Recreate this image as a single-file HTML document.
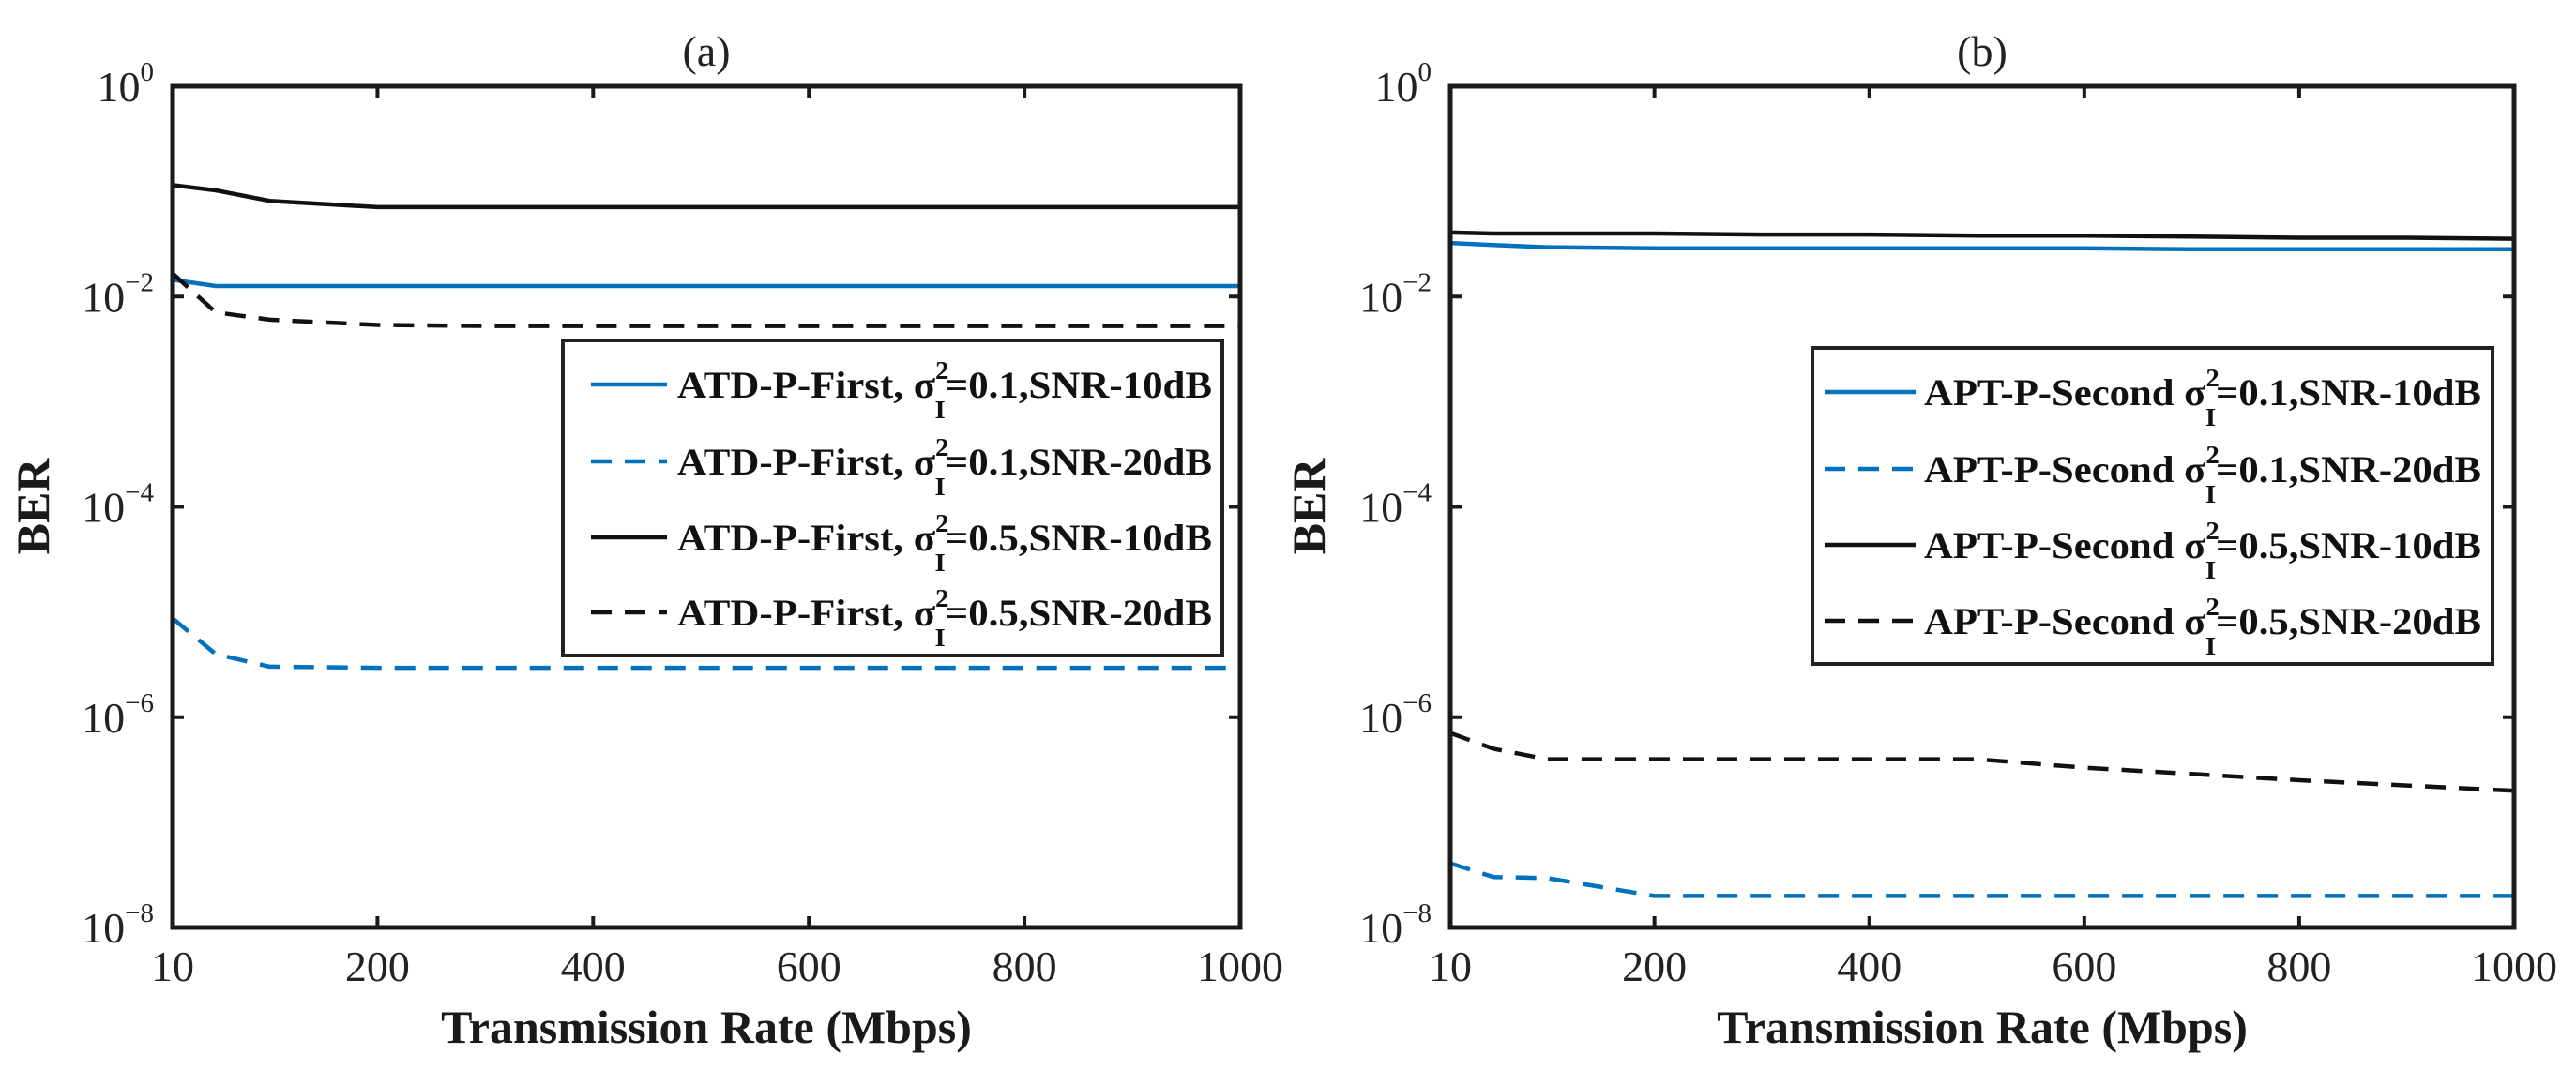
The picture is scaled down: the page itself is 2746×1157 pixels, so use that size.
<!DOCTYPE html>
<html><head><meta charset="utf-8"><style>
html,body{margin:0;padding:0;background:#fff;}
svg{display:block;}
.tk{font-family:"Liberation Serif",serif;font-size:46px;fill:#222;}
.ex{font-size:29px;}
.ax{font-family:"Liberation Serif",serif;font-size:50px;font-weight:bold;fill:#1a1a1a;}
.lg{font-family:"Liberation Serif",serif;font-size:40px;font-weight:bold;fill:#111;}
.sb{font-size:27px;}
</style></head><body>
<svg id="fig" width="2746" height="1157" viewBox="0 0 2746 1157" xmlns="http://www.w3.org/2000/svg"></svg>
<script>
const xVals = [10, 50, 100, 200, 300, 400, 500, 600, 700, 800, 900, 1000];
const xTicks = [10, 200, 400, 600, 800, 1000];
const yTickExps = [0, -2, -4, -6, -8];
// panel (a) log10(BER)
const aBlueSolid  = [-1.84, -1.90, -1.90, -1.90, -1.90, -1.90, -1.90, -1.90, -1.90, -1.90, -1.90, -1.90];
const aBlueDash   = [-5.06, -5.40, -5.52, -5.53, -5.53, -5.53, -5.53, -5.53, -5.53, -5.53, -5.53, -5.53];
const aBlackSolid = [-0.94, -0.99, -1.09, -1.15, -1.15, -1.15, -1.15, -1.15, -1.15, -1.15, -1.15, -1.15];
const aBlackDash  = [-1.78, -2.15, -2.22, -2.27, -2.28, -2.28, -2.28, -2.28, -2.28, -2.28, -2.28, -2.28];
// panel (b) log10(BER)
const bBlueSolid  = [-1.49, -1.51, -1.53, -1.54, -1.54, -1.54, -1.54, -1.54, -1.55, -1.55, -1.55, -1.55];
const bBlueDash   = [-7.39, -7.52, -7.53, -7.70, -7.70, -7.70, -7.70, -7.70, -7.70, -7.70, -7.70, -7.70];
const bBlackSolid = [-1.39, -1.40, -1.40, -1.40, -1.41, -1.41, -1.42, -1.42, -1.43, -1.44, -1.44, -1.45];
const bBlackDash  = [-6.15, -6.30, -6.40, -6.40, -6.40, -6.40, -6.40, -6.48, -6.54, -6.60, -6.65, -6.70];

const NS = "http://www.w3.org/2000/svg";
const svg = document.getElementById('fig');
function mk(tag, attrs, parent){const e=document.createElementNS(NS,tag);for(const k in attrs)e.setAttribute(k,attrs[k]);(parent||svg).appendChild(e);return e;}
const BLUE = "#0072BD";

function panel(p){
  const g = mk('g',{});
  
  
  const L=p.left,R=p.right,T=92,B=989;
  const sx = v => L + (v-10)/(990)*(R-L);
  const sy = e => T + (0-e)/8*(B-T);
  p.series.forEach(s=>{
    let d='';
    s.vals.forEach((v,i)=>{d+=(i?'L':'M')+sx(xVals[i]).toFixed(1)+','+sy(v).toFixed(1);});
    const path = mk('path',{d:d,fill:'none',stroke:s.color,'stroke-width':4.5,'stroke-dasharray':s.dash?'22,14':'none','stroke-linejoin':'round'},g);
    
    
  });
  const fr = mk('rect',{x:L,y:T,width:R-L,height:B-T,fill:'none',stroke:'#1a1a1a','stroke-width':5},g);
  
  
  xTicks.forEach(t=>{
    const x=sx(t);
    mk('line',{x1:x,y1:B,x2:x,y2:B-12,stroke:'#1a1a1a','stroke-width':4},g);
    mk('line',{x1:x,y1:T,x2:x,y2:T+12,stroke:'#1a1a1a','stroke-width':4},g);
    const tx = mk('text',{x:x,y:1046,'text-anchor':'middle',class:'tk'},g);
    tx.textContent=t;
    
    
  });
  yTickExps.forEach(e=>{
    const y=sy(e);
    mk('line',{x1:L,y1:y,x2:L+12,y2:y,stroke:'#1a1a1a','stroke-width':4},g);
    mk('line',{x1:R,y1:y,x2:R-12,y2:y,stroke:'#1a1a1a','stroke-width':4},g);
    const tx = mk('text',{x:L-20,y:y+16,'text-anchor':'end',class:'tk'},g);
    tx.innerHTML = '10<tspan class="ex" dy="-22">'+(e===0?'0':'\u2212'+(-e))+'</tspan>';
    
    
  });
  const xt = mk('text',{x:(L+R)/2,y:1112,'text-anchor':'middle',class:'ax'},g);
  xt.textContent='Transmission Rate (Mbps)';
  
  
  const yt = mk('text',{x:0,y:0,'text-anchor':'middle',class:'ax',transform:'translate('+p.ylabX+',540) rotate(-90)'},g);
  yt.textContent='BER';
  
  
  const tt = mk('text',{x:(L+R)/2,y:70,'text-anchor':'middle',class:'tk'},g);
  tt.textContent=p.title;
  
  
  const lg = mk('g',{},g);
  
  
  const lb=p.legend;
  mk('rect',{x:lb.x,y:lb.y,width:lb.w,height:lb.h,fill:'#fff',stroke:'#222','stroke-width':4},lg);
  p.series.forEach((s,i)=>{
    const y=lb.rows[i];
    const row = mk('g',{},lg);
    
    
    mk('line',{x1:lb.lx1,y1:y,x2:lb.lx2,y2:y,stroke:s.color,'stroke-width':4.5,'stroke-dasharray':s.dash?'22,14':'none'},row);
    const t = mk('text',{x:lb.tx,y:y+14,class:'lg',textLength:lb.tw,lengthAdjust:'spacingAndGlyphs'},row);
    t.innerHTML = s.pre+' \u03C3<tspan class="sb" dy="-20">2</tspan><tspan class="sb" dx="-14" dy="42">I</tspan><tspan dy="-22">='+s.post+'</tspan>';
  });
}

panel({id:'a',left:184,right:1322,ylabX:52,title:'(a)',
  legend:{x:600,y:363,w:703,h:336,rows:[410,492,573,653],lx1:630,lx2:711,tx:722,tw:570},
  series:[
    {name:'a-blue-solid',vals:aBlueSolid,color:BLUE,dash:false,pre:'ATD-P-First,',post:'0.1,SNR-10dB'},
    {name:'a-blue-dashed',vals:aBlueDash,color:BLUE,dash:true,pre:'ATD-P-First,',post:'0.1,SNR-20dB'},
    {name:'a-black-solid',vals:aBlackSolid,color:'#111',dash:false,pre:'ATD-P-First,',post:'0.5,SNR-10dB'},
    {name:'a-black-dashed',vals:aBlackDash,color:'#111',dash:true,pre:'ATD-P-First,',post:'0.5,SNR-20dB'}]});
panel({id:'b',left:1546,right:2680,ylabX:1412,title:'(b)',
  legend:{x:1932,y:371,w:725,h:337,rows:[418,500,581,662],lx1:1945,lx2:2042,tx:2051,tw:594},
  series:[
    {name:'b-blue-solid',vals:bBlueSolid,color:BLUE,dash:false,pre:'APT-P-Second',post:'0.1,SNR-10dB'},
    {name:'b-blue-dashed',vals:bBlueDash,color:BLUE,dash:true,pre:'APT-P-Second',post:'0.1,SNR-20dB'},
    {name:'b-black-solid',vals:bBlackSolid,color:'#111',dash:false,pre:'APT-P-Second',post:'0.5,SNR-10dB'},
    {name:'b-black-dashed',vals:bBlackDash,color:'#111',dash:true,pre:'APT-P-Second',post:'0.5,SNR-20dB'}]});
</script>
</body></html>
